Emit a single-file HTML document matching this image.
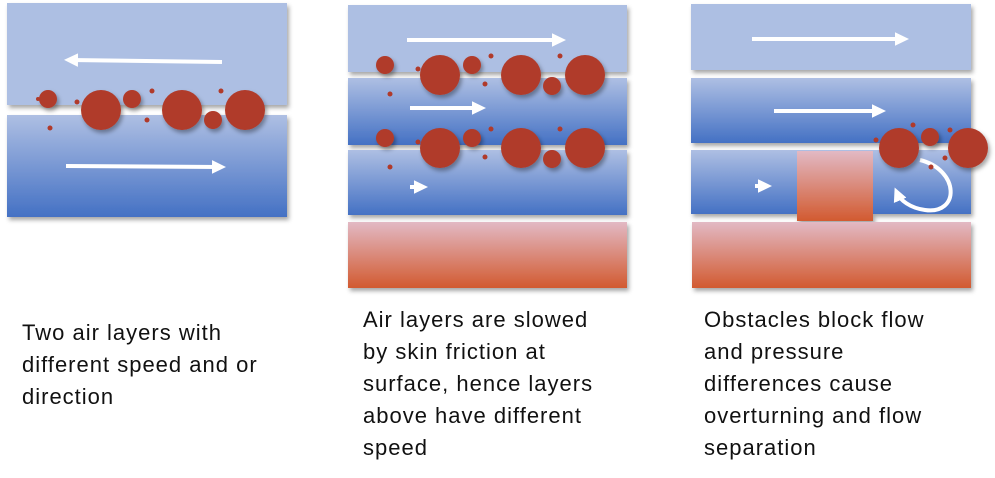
<!DOCTYPE html>
<html><head><style>
body{margin:0;background:#fff;width:995px;height:478px;overflow:hidden;position:relative;font-family:"Liberation Sans",sans-serif}
.t{position:absolute;font-size:22px;letter-spacing:1px;line-height:32px;color:#111}
</style></head><body>
<svg width="995" height="478" style="position:absolute;left:0;top:0">
<defs>
<linearGradient id="b" x1="0" y1="0" x2="0" y2="1"><stop offset="0" stop-color="#aebfe3"/><stop offset="1" stop-color="#4471c4"/></linearGradient>
<linearGradient id="r" x1="0" y1="0" x2="0" y2="1"><stop offset="0" stop-color="#e2b9c4"/><stop offset="1" stop-color="#d25a30"/></linearGradient>
<filter id="s" x="-10%" y="-10%" width="130%" height="130%"><feDropShadow dx="2" dy="3" stdDeviation="2" flood-color="#000" flood-opacity="0.35"/></filter>
<marker id="ah" markerWidth="4" markerHeight="4" refX="2" refY="2" orient="auto" markerUnits="strokeWidth"><path d="M0,0.3L3.5,2L0,3.7z" fill="#fff"/></marker>
</defs>
<g filter="url(#s)">
<rect x="7" y="3" width="280" height="102" fill="#adbfe3"/>
<rect x="7" y="115" width="280" height="102" fill="url(#b)"/>
<rect x="348" y="5" width="279" height="67" fill="#adbfe3"/>
<rect x="348" y="78" width="279" height="67" fill="url(#b)"/>
<rect x="348" y="150" width="279" height="65" fill="url(#b)"/>
<rect x="348" y="222" width="279" height="66" fill="url(#r)"/>
<rect x="691" y="4" width="280" height="66" fill="#adbfe3"/>
<rect x="691" y="78" width="280" height="65" fill="url(#b)"/>
<rect x="691" y="150" width="280" height="64" fill="url(#b)"/>
<rect x="692" y="222" width="279" height="66" fill="url(#r)"/>
<rect x="797" y="151" width="76" height="70" fill="url(#r)"/>
</g>
<g stroke="#fff" stroke-width="4" fill="none">
<line x1="222" y1="62" x2="70" y2="60" marker-end="url(#ah)"/>
<line x1="66" y1="166" x2="220" y2="167" marker-end="url(#ah)"/>
<line x1="407" y1="40" x2="560" y2="40" marker-end="url(#ah)"/>
<line x1="410" y1="108" x2="480" y2="108" marker-end="url(#ah)"/>
<line x1="410" y1="187" x2="422" y2="187" marker-end="url(#ah)"/>
<line x1="752" y1="39" x2="903" y2="39" marker-end="url(#ah)"/>
<line x1="774" y1="111" x2="880" y2="111" marker-end="url(#ah)"/>
<line x1="755" y1="186" x2="766" y2="186" marker-end="url(#ah)"/>
<path d="M920,160 C960,170 960,215 925,210 C910,208 900,200 897,193" marker-end="url(#ah)"/>
</g>
<g fill="#b03a2a" filter="url(#s)">
<circle cx="48" cy="99" r="9"/><circle cx="101" cy="110" r="20"/><circle cx="132" cy="99" r="9"/><circle cx="182" cy="110" r="20"/><circle cx="213" cy="120" r="9"/><circle cx="245" cy="110" r="20"/>
<circle cx="385" cy="65" r="9"/><circle cx="440" cy="75" r="20"/><circle cx="472" cy="65" r="9"/><circle cx="521" cy="75" r="20"/><circle cx="552" cy="86" r="9"/><circle cx="585" cy="75" r="20"/>
<circle cx="385" cy="138" r="9"/><circle cx="440" cy="148" r="20"/><circle cx="472" cy="138" r="9"/><circle cx="521" cy="148" r="20"/><circle cx="552" cy="159" r="9"/><circle cx="585" cy="148" r="20"/>
<circle cx="899" cy="148" r="20"/><circle cx="930" cy="137" r="9"/><circle cx="968" cy="148" r="20"/>
</g>
<g fill="#b03a2a">
<circle cx="77" cy="102" r="2.5"/><circle cx="50" cy="128" r="2.5"/><circle cx="152" cy="91" r="2.5"/><circle cx="147" cy="120" r="2.5"/><circle cx="221" cy="91" r="2.5"/><circle cx="38" cy="99" r="2"/>
<circle cx="418" cy="69" r="2.5"/><circle cx="390" cy="94" r="2.5"/><circle cx="491" cy="56" r="2.5"/><circle cx="485" cy="84" r="2.5"/><circle cx="560" cy="56" r="2.5"/>
<circle cx="418" cy="142" r="2.5"/><circle cx="390" cy="167" r="2.5"/><circle cx="491" cy="129" r="2.5"/><circle cx="485" cy="157" r="2.5"/><circle cx="560" cy="129" r="2.5"/>
<circle cx="876" cy="140" r="2.5"/><circle cx="913" cy="125" r="2.5"/><circle cx="950" cy="130" r="2.5"/><circle cx="945" cy="158" r="2.5"/><circle cx="931" cy="167" r="2.5"/>
</g>
</svg>
<div class="t" style="left:22px;top:317px">Two air layers with<br>different speed and or<br>direction</div>
<div class="t" style="left:363px;top:304px">Air layers are slowed<br>by skin friction at<br>surface, hence layers<br>above have different<br>speed</div>
<div class="t" style="left:704px;top:304px">Obstacles block flow<br>and pressure<br>differences cause<br>overturning and flow<br>separation</div>
</body></html>
